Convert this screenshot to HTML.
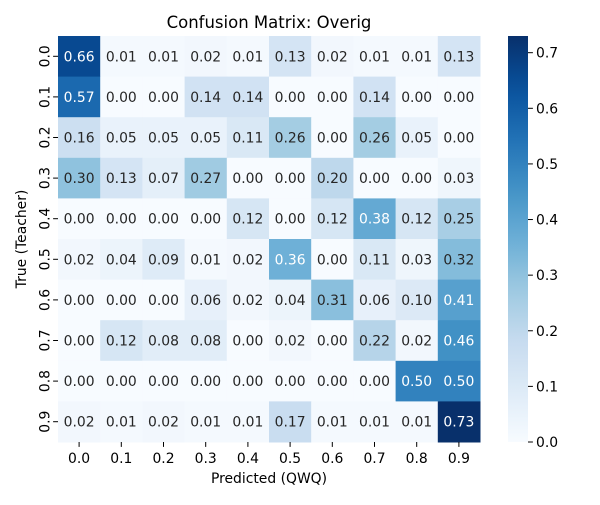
<!DOCTYPE html>
<html><head><meta charset="utf-8"><style>
body{margin:0;background:#fff}
text{font-family:"DejaVu Sans","Liberation Sans",sans-serif}
</style></head><body>
<svg id="chart" width="600" height="500" xmlns="http://www.w3.org/2000/svg">
<text x="269" y="28" font-size="16.5" text-anchor="middle">Confusion Matrix: Overig</text>
<text x="269" y="483" font-size="13.9" text-anchor="middle">Predicted (QWQ)</text>
<text transform="translate(26,239) rotate(-90)" font-size="13.9" text-anchor="middle">True (Teacher)</text>
<g id="cells"></g><g id="axes"></g><g id="cbar"></g>
</svg>
<script>
const xLabels=["0.0","0.1","0.2","0.3","0.4","0.5","0.6","0.7","0.8","0.9"];
const yLabels=["0.0","0.1","0.2","0.3","0.4","0.5","0.6","0.7","0.8","0.9"];
const row0=[0.66,0.01,0.01,0.02,0.01,0.13,0.02,0.01,0.01,0.13];
const row1=[0.57,0.00,0.00,0.14,0.14,0.00,0.00,0.14,0.00,0.00];
const row2=[0.16,0.05,0.05,0.05,0.11,0.26,0.00,0.26,0.05,0.00];
const row3=[0.30,0.13,0.07,0.27,0.00,0.00,0.20,0.00,0.00,0.03];
const row4=[0.00,0.00,0.00,0.00,0.12,0.00,0.12,0.38,0.12,0.25];
const row5=[0.02,0.04,0.09,0.01,0.02,0.36,0.00,0.11,0.03,0.32];
const row6=[0.00,0.00,0.00,0.06,0.02,0.04,0.31,0.06,0.10,0.41];
const row7=[0.00,0.12,0.08,0.08,0.00,0.02,0.00,0.22,0.02,0.46];
const row8=[0.00,0.00,0.00,0.00,0.00,0.00,0.00,0.00,0.50,0.50];
const row9=[0.02,0.01,0.02,0.01,0.01,0.17,0.01,0.01,0.01,0.73];
const matrix=[row0,row1,row2,row3,row4,row5,row6,row7,row8,row9];
const cbTicks=[0,0.1,0.2,0.3,0.4,0.5,0.6,0.7];
const vmin=0,vmax=0.73;
const L=58,T=36,W=422,H=406;
const NS="http://www.w3.org/2000/svg";
const stops=["#f7fbff","#deebf7","#c6dbef","#9ecae1","#6baed6","#4292c6","#2171b5","#08519c","#08306b"];
function hex(h){return [1,3,5].map(i=>parseInt(h.substr(i,2),16));}
function cmap(v){let t=Math.max(0,Math.min(1,(v-vmin)/(vmax-vmin)))*(stops.length-1);let i=Math.min(stops.length-2,Math.floor(t));let f=t-i;let a=hex(stops[i]),b=hex(stops[i+1]);return "rgb("+a.map((x,k)=>Math.round(x+(b[k]-x)*f)).join(",")+")";}
const cw=W/xLabels.length,ch=H/yLabels.length;
const xs=j=>L+j*cw, ys=i=>T+i*ch;
function mk(tag,attrs,parent){const e=document.createElementNS(NS,tag);for(const k in attrs)e.setAttribute(k,attrs[k]);parent.appendChild(e);return e;}
const cells=document.getElementById('cells'),axes=document.getElementById('axes'),cbar=document.getElementById('cbar');
matrix.forEach((row,i)=>row.forEach((v,j)=>{
 const r=mk('rect',{x:xs(j),y:ys(i),width:cw+0.5,height:ch+0.5,fill:cmap(v)},cells);
 
 
 const t=mk('text',{x:xs(j)+cw/2,y:ys(i)+ch/2+5,'font-size':13.9,'text-anchor':'middle',fill:v>=0.35?'#fff':'#262626'},cells);
 t.textContent=v.toFixed(2);
 
 
}));
xLabels.forEach((l,j)=>{
 const x=xs(j)+cw/2;
 mk('line',{x1:x,x2:x,y1:T+H,y2:T+H+4.9,stroke:'#000'},axes);
 const t=mk('text',{x:x,y:T+H+21,'font-size':13.9,'text-anchor':'middle'},axes);
 t.textContent=l;
 
 
});
yLabels.forEach((l,i)=>{
 const y=ys(i)+ch/2;
 mk('line',{x1:L-4.9,x2:L,y1:y,y2:y,stroke:'#000'},axes);
 const t=mk('text',{transform:'translate('+(L-8.5)+','+y+') rotate(-90)','font-size':13.9,'text-anchor':'middle'},axes);
 t.textContent=l;
 
 
});
const CL=508,CW=20;
const cy=v=>T+H-(v-vmin)/(vmax-vmin)*H;
const defs=mk('defs',{},cbar);
const g=mk('linearGradient',{id:'cg',x1:0,y1:1,x2:0,y2:0},defs);
for(let k=0;k<=20;k++){mk('stop',{offset:k/20,'stop-color':cmap(vmin+(vmax-vmin)*k/20)},g);}
const cr=mk('rect',{x:CL,y:T,width:CW,height:H,fill:'url(#cg)'},cbar);


cbTicks.forEach(v=>{
 const y=cy(v);
 mk('line',{x1:CL+CW,x2:CL+CW+4.9,y1:y,y2:y,stroke:'#000'},cbar);
 const t=mk('text',{x:CL+CW+8,y:y+5,'font-size':13.9},cbar);
 t.textContent=v.toFixed(1);
 
 
});
</script>
</body></html>
